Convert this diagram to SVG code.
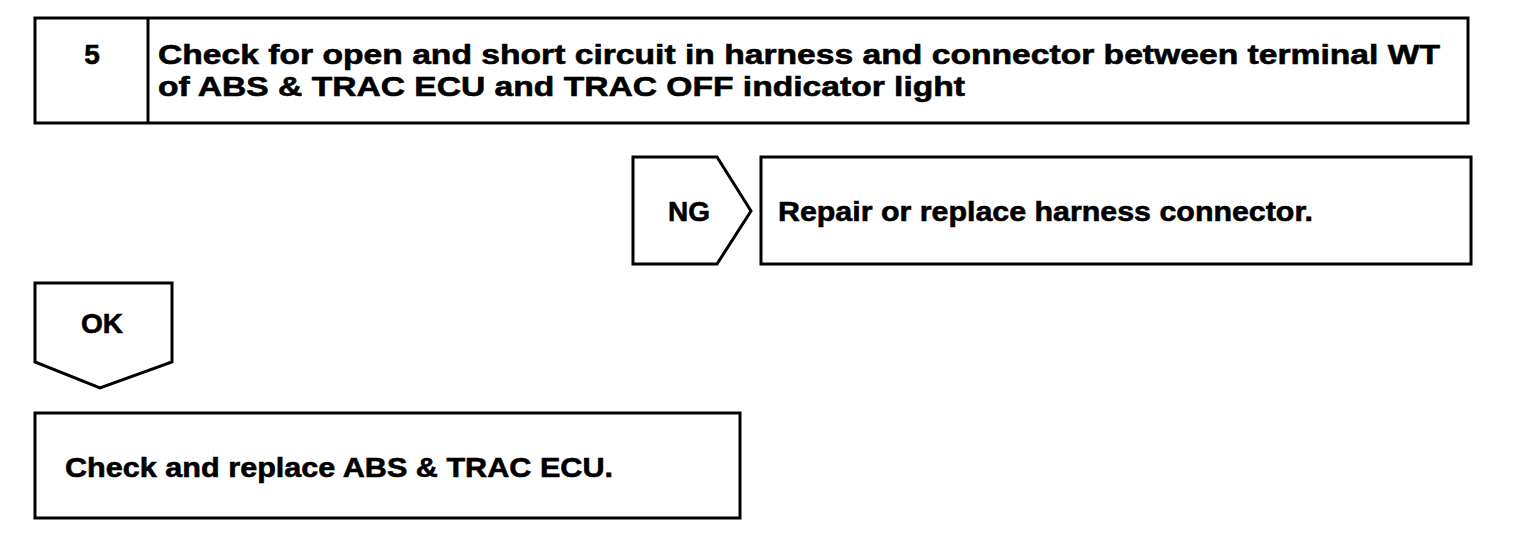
<svg xmlns="http://www.w3.org/2000/svg" width="1520" height="558" viewBox="0 0 1520 558">
<style>
.box{fill:#fff;stroke:#000;stroke-width:3}
.t{font-family:"Liberation Sans",Arial,sans-serif;font-weight:bold;font-size:28px;fill:#000;stroke:#000;stroke-width:0.6}
</style>
<rect width="1520" height="558" fill="#fff"/>
<g id="step5">
<rect class="box" x="35" y="18" width="1433" height="105"/>
<line x1="148" y1="18" x2="148" y2="123" stroke="#000" stroke-width="3"/>
<text class="t" x="92" y="64" text-anchor="middle">5</text>
<text class="t" x="158" y="64" textLength="1282" lengthAdjust="spacingAndGlyphs">Check for open and short circuit in harness and connector between terminal WT</text>
<text class="t" x="158" y="96" textLength="807" lengthAdjust="spacingAndGlyphs">of ABS &amp; TRAC ECU and TRAC OFF indicator light</text>
</g>
<g id="connectors">
<g id="ng">
<polygon class="box" points="633,157 717,157 751,211 717,264 633,264"/>
<text class="t" x="689" y="221" text-anchor="middle">NG</text>
</g>
<g id="ok">
<polygon class="box" points="35,283 172,283 172,362 100,388 35,362"/>
<text class="t" x="102" y="333" text-anchor="middle">OK</text>
</g>
</g>
<g id="repair">
<rect class="box" x="761" y="157" width="710" height="107"/>
<text class="t" x="778" y="221" textLength="535" lengthAdjust="spacingAndGlyphs">Repair or replace harness connector.</text>
</g>
<g id="replace">
<rect class="box" x="35" y="413" width="705" height="105"/>
<text class="t" x="65" y="477" textLength="548" lengthAdjust="spacingAndGlyphs">Check and replace ABS &amp; TRAC ECU.</text>
</g>
</svg>
